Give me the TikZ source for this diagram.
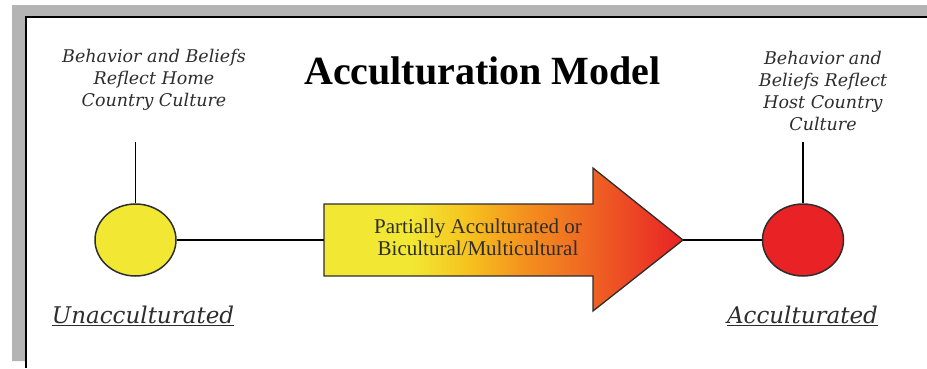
\documentclass[tikz,border=0pt]{standalone}
\usepackage{fontspec}
\setmainfont{Liberation Serif}
\newfontfamily\notefont{DejaVu Serif}
\usetikzlibrary{shapes.geometric}
\definecolor{frame}{RGB}{180,180,180}
\definecolor{sun}{RGB}{242,232,52}
\definecolor{gold}{RGB}{246,195,30}
\definecolor{amber}{RGB}{244,144,30}
\definecolor{ember}{RGB}{239,106,34}
\definecolor{flame}{RGB}{236,69,36}
\definecolor{blood}{RGB}{233,34,38}
\definecolor{ink}{RGB}{45,45,45}
\pgfdeclarehorizontalshading{heat}{100bp}{color(0bp)=(sun); color(37bp)=(sun);
	color(45bp)=(gold); color(53bp)=(amber); color(61bp)=(ember);
	color(68bp)=(flame); color(75bp)=(blood); color(100bp)=(blood)}

\begin{document}
\begin{tikzpicture}[x=1pt,y=-1pt,line width=1.3pt,
	stage/.style={shape=ellipse,draw=ink,line width=1.5pt,minimum width=81pt,minimum height=72pt,inner sep=0pt},
	note/.style={align=center,text=ink,font=\notefont\itshape\fontsize{17.5}{22}\selectfont},
	tag/.style={text=ink,anchor=base,font=\notefont\itshape\fontsize{23}{26}\selectfont}]
	\useasboundingbox (0,0) rectangle (927,368);
	% window frame
	\fill[frame] (12,5) rectangle (927,16) (12,5) rectangle (25,361);
	\draw[line width=2pt] (927,17) -- (26,17) -- (26,368);

	\node (title) [anchor=base,font=\bfseries\fontsize{40}{44}\selectfont] at (482.5,84) {Acculturation Model};

	\node (home) [stage,fill=sun] at (135.5,240) {};
	\node (host) [stage,fill=blood] at (803,240) {};
	\node (homenote) [note] at (154,80) {Behavior and Beliefs\\Reflect Home\\Country Culture};
	\node (hostnote) [note] at (823,91) {Behavior and\\Beliefs Reflect\\Host Country\\Culture};
	\coordinate (homestem) at (135.5,142);
	\coordinate (hoststem) at (803,142);

	% big arrow
	\coordinate (tail) at (324,240);
	\coordinate (tip) at (683,240);
	\path[draw=ink,shading=heat]
		(324,204) -- (593,204) -- (593,168) -- (tip) -- (593,311) -- (593,276) -- (324,276) -- cycle;
	\node (mid) [align=center,text=ink,font=\fontsize{21}{22}\selectfont] at (478,237.5) {Partially Acculturated or\\Bicultural/Multicultural};

	\node (un) [tag] at (143,323) {\underline{Unacculturated}};
	\node (ac) [tag] at (802.5,323) {\underline{Acculturated}};

	\path (home) edge (homestem);
	\path (host) edge (hoststem);
	\path (home) edge (tail);
	\path (tip) edge (host);
\end{tikzpicture}
\end{document}
